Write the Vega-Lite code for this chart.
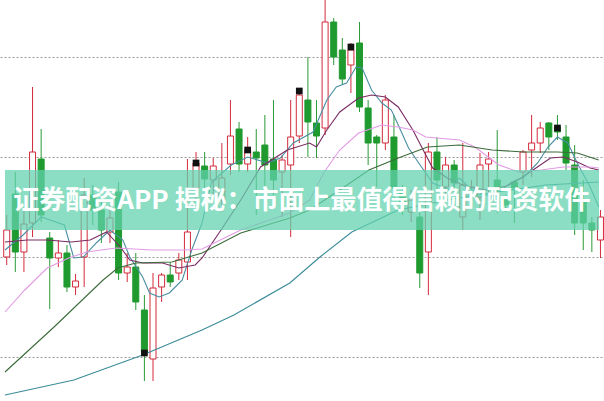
{
  "$schema": "https://vega.github.io/schema/vega-lite/v6.json",
  "width": 604,
  "height": 401,
  "padding": 0,
  "autosize": {"type": "fit", "contains": "padding"},
  "background": "white",
  "config": {"view": {"stroke": null}},
  "datasets": {
    "candles": [
      {"i":0,"o":11.00,"c":11.27,"h":11.42,"l":10.92},
      {"i":1,"o":11.63,"c":11.05,"h":11.85,"l":10.85},
      {"i":2,"o":11.05,"c":11.33,"h":11.47,"l":10.85},
      {"i":3,"o":11.34,"c":12.05,"h":12.70,"l":11.20},
      {"i":4,"o":11.98,"c":11.42,"h":12.28,"l":11.35},
      {"i":5,"o":11.19,"c":10.99,"h":11.25,"l":10.48},
      {"i":6,"o":10.99,"c":11.04,"h":11.17,"l":10.90},
      {"i":7,"o":11.04,"c":10.70,"h":11.12,"l":10.65},
      {"i":8,"o":10.70,"c":10.76,"h":10.83,"l":10.62},
      {"i":9,"o":11.00,"c":11.62,"h":11.79,"l":10.70},
      {"i":10,"o":11.62,"c":11.47,"h":11.72,"l":11.32},
      {"i":11,"o":11.47,"c":11.27,"h":11.57,"l":11.14},
      {"i":12,"o":11.25,"c":11.39,"h":11.52,"l":11.14},
      {"i":13,"o":11.65,"c":10.84,"h":11.75,"l":10.77},
      {"i":14,"o":10.84,"c":10.90,"h":11.04,"l":10.75},
      {"i":15,"o":10.90,"c":10.55,"h":11.04,"l":10.47},
      {"i":16,"o":10.47,"c":10.05,"h":10.62,"l":9.76},
      {"i":17,"o":9.98,"c":10.69,"h":10.84,"l":9.76},
      {"i":18,"o":10.70,"c":10.82,"h":10.84,"l":10.55},
      {"i":19,"o":10.82,"c":10.75,"h":10.95,"l":10.70},
      {"i":20,"o":10.84,"c":10.97,"h":11.04,"l":10.77},
      {"i":21,"o":10.95,"c":11.25,"h":11.98,"l":10.77},
      {"i":22,"o":11.69,"c":11.94,"h":12.05,"l":11.57},
      {"i":23,"o":11.91,"c":11.78,"h":12.05,"l":11.67},
      {"i":24,"o":11.77,"c":11.91,"h":11.99,"l":11.62},
      {"i":25,"o":11.57,"c":11.79,"h":12.14,"l":11.45},
      {"i":26,"o":11.93,"c":12.21,"h":12.57,"l":11.82},
      {"i":27,"o":12.28,"c":11.93,"h":12.35,"l":11.85},
      {"i":28,"o":11.93,"c":12.07,"h":12.20,"l":11.85},
      {"i":29,"o":12.05,"c":11.99,"h":12.28,"l":11.42},
      {"i":30,"o":12.12,"c":11.92,"h":12.42,"l":11.57},
      {"i":31,"o":11.98,"c":11.77,"h":12.57,"l":11.62},
      {"i":32,"o":11.85,"c":11.97,"h":12.02,"l":11.40},
      {"i":33,"o":11.92,"c":12.20,"h":12.57,"l":11.20},
      {"i":34,"o":12.21,"c":12.62,"h":12.69,"l":12.14},
      {"i":35,"o":12.57,"c":12.35,"h":13.00,"l":12.00},
      {"i":36,"o":12.34,"c":12.21,"h":12.57,"l":11.99},
      {"i":37,"o":12.29,"c":13.35,"h":13.60,"l":12.22},
      {"i":38,"o":13.35,"c":13.00,"h":13.39,"l":12.92},
      {"i":39,"o":13.07,"c":12.78,"h":13.19,"l":12.72},
      {"i":40,"o":12.92,"c":13.07,"h":13.14,"l":12.64},
      {"i":41,"o":13.14,"c":12.50,"h":13.35,"l":12.45},
      {"i":42,"o":12.49,"c":12.14,"h":12.57,"l":11.92},
      {"i":43,"o":12.20,"c":12.14,"h":12.22,"l":11.70},
      {"i":44,"o":12.14,"c":12.57,"h":12.62,"l":12.07},
      {"i":45,"o":12.20,"c":11.69,"h":12.42,"l":11.57},
      {"i":46,"o":11.65,"c":11.55,"h":11.72,"l":11.42},
      {"i":47,"o":11.45,"c":11.57,"h":11.67,"l":11.35},
      {"i":48,"o":11.40,"c":10.84,"h":11.52,"l":10.69},
      {"i":49,"o":11.05,"c":12.05,"h":12.14,"l":10.62},
      {"i":50,"o":12.05,"c":11.77,"h":12.20,"l":11.67},
      {"i":51,"o":11.70,"c":11.92,"h":12.00,"l":11.57},
      {"i":52,"o":11.92,"c":11.74,"h":11.97,"l":11.65},
      {"i":53,"o":11.40,"c":11.72,"h":12.14,"l":11.27},
      {"i":54,"o":11.62,"c":11.70,"h":11.77,"l":11.52},
      {"i":55,"o":11.60,"c":11.92,"h":12.04,"l":11.37},
      {"i":56,"o":11.93,"c":11.98,"h":12.05,"l":11.57},
      {"i":57,"o":11.77,"c":11.69,"h":12.27,"l":11.44},
      {"i":58,"o":11.57,"c":11.52,"h":11.62,"l":11.45},
      {"i":59,"o":11.75,"c":11.69,"h":11.77,"l":11.34},
      {"i":60,"o":11.85,"c":12.05,"h":12.07,"l":11.72},
      {"i":61,"o":12.07,"c":12.14,"h":12.42,"l":11.80},
      {"i":62,"o":12.14,"c":12.29,"h":12.35,"l":12.04},
      {"i":63,"o":12.34,"c":12.20,"h":12.35,"l":12.07},
      {"i":64,"o":12.30,"c":12.25,"h":12.42,"l":12.17},
      {"i":65,"o":12.20,"c":11.94,"h":12.32,"l":11.87},
      {"i":66,"o":11.92,"c":11.34,"h":12.12,"l":11.22},
      {"i":67,"o":11.57,"c":11.34,"h":11.77,"l":11.07},
      {"i":68,"o":11.34,"c":11.27,"h":11.40,"l":11.05},
      {"i":69,"o":11.17,"c":11.40,"h":11.47,"l":10.99}
    ],
    "ma": [
      {"s":"MA5","i":-0.2,"p":11.07},{"s":"MA5","i":1.9,"p":11.22},{"s":"MA5","i":4.0,"p":11.40},{"s":"MA5","i":6.7,"p":11.32},{"s":"MA5","i":7.8,"p":10.99},{"s":"MA5","i":8.9,"p":11.00},{"s":"MA5","i":10.4,"p":11.14},{"s":"MA5","i":12.0,"p":11.27},{"s":"MA5","i":13.5,"p":11.17},{"s":"MA5","i":14.3,"p":11.00},{"s":"MA5","i":15.8,"p":10.80},{"s":"MA5","i":16.6,"p":10.64},{"s":"MA5","i":17.7,"p":10.60},{"s":"MA5","i":18.9,"p":10.64},{"s":"MA5","i":20.4,"p":10.77},{"s":"MA5","i":21.5,"p":11.07},{"s":"MA5","i":22.7,"p":11.34},{"s":"MA5","i":23.8,"p":11.75},{"s":"MA5","i":26.1,"p":11.92},{"s":"MA5","i":28.0,"p":12.00},{"s":"MA5","i":30.3,"p":11.94},{"s":"MA5","i":31.8,"p":11.99},{"s":"MA5","i":33.3,"p":12.14},{"s":"MA5","i":35.6,"p":12.25},{"s":"MA5","i":37.2,"p":12.57},{"s":"MA5","i":38.3,"p":12.70},{"s":"MA5","i":39.5,"p":12.74},{"s":"MA5","i":40.6,"p":12.90},{"s":"MA5","i":41.3,"p":12.89},{"s":"MA5","i":42.4,"p":12.67},{"s":"MA5","i":43.6,"p":12.54},{"s":"MA5","i":44.7,"p":12.47},{"s":"MA5","i":45.5,"p":12.32},{"s":"MA5","i":46.7,"p":12.09},{"s":"MA5","i":47.8,"p":11.95},{"s":"MA5","i":49.5,"p":11.74},{"s":"MA5","i":51.5,"p":11.67},{"s":"MA5","i":52.6,"p":11.79},{"s":"MA5","i":54.1,"p":11.67},{"s":"MA5","i":56.4,"p":11.60},{"s":"MA5","i":58.7,"p":11.75},{"s":"MA5","i":60.1,"p":11.80},{"s":"MA5","i":61.7,"p":11.94},{"s":"MA5","i":62.9,"p":12.10},{"s":"MA5","i":64.0,"p":12.20},{"s":"MA5","i":65.2,"p":12.14},{"s":"MA5","i":66.3,"p":11.94},{"s":"MA5","i":67.8,"p":11.70},{"s":"MA5","i":68.8,"p":11.50},
      {"s":"MA10","i":-0.2,"p":11.15},{"s":"MA10","i":2.4,"p":11.17},{"s":"MA10","i":4.7,"p":11.17},{"s":"MA10","i":7.5,"p":11.15},{"s":"MA10","i":9.7,"p":11.17},{"s":"MA10","i":11.6,"p":11.25},{"s":"MA10","i":13.2,"p":11.10},{"s":"MA10","i":14.3,"p":10.97},{"s":"MA10","i":15.8,"p":10.94},{"s":"MA10","i":18.1,"p":10.94},{"s":"MA10","i":20.0,"p":10.89},{"s":"MA10","i":21.9,"p":10.92},{"s":"MA10","i":22.7,"p":10.99},{"s":"MA10","i":24.9,"p":11.27},{"s":"MA10","i":27.2,"p":11.57},{"s":"MA10","i":29.5,"p":11.90},{"s":"MA10","i":32.6,"p":12.07},{"s":"MA10","i":35.2,"p":12.14},{"s":"MA10","i":36.0,"p":12.10},{"s":"MA10","i":37.2,"p":12.27},{"s":"MA10","i":38.7,"p":12.45},{"s":"MA10","i":40.9,"p":12.59},{"s":"MA10","i":42.4,"p":12.62},{"s":"MA10","i":44.0,"p":12.60},{"s":"MA10","i":45.5,"p":12.50},{"s":"MA10","i":47.2,"p":12.27},{"s":"MA10","i":48.4,"p":12.07},{"s":"MA10","i":49.5,"p":11.89},{"s":"MA10","i":51.2,"p":11.79},{"s":"MA10","i":53.5,"p":11.70},{"s":"MA10","i":55.8,"p":11.67},{"s":"MA10","i":58.1,"p":11.71},{"s":"MA10","i":59.8,"p":11.79},{"s":"MA10","i":61.5,"p":11.89},{"s":"MA10","i":63.2,"p":11.99},{"s":"MA10","i":64.7,"p":12.00},{"s":"MA10","i":66.3,"p":11.95},{"s":"MA10","i":67.8,"p":11.89},{"s":"MA10","i":68.8,"p":11.87},
      {"s":"MA20","i":-0.2,"p":10.45},{"s":"MA20","i":2.1,"p":10.67},{"s":"MA20","i":4.7,"p":10.89},{"s":"MA20","i":7.2,"p":10.99},{"s":"MA20","i":9.3,"p":11.05},{"s":"MA20","i":12.7,"p":11.09},{"s":"MA20","i":16.9,"p":11.07},{"s":"MA20","i":20.7,"p":11.07},{"s":"MA20","i":22.7,"p":11.08},{"s":"MA20","i":27.2,"p":11.27},{"s":"MA20","i":32.9,"p":11.44},{"s":"MA20","i":35.2,"p":11.57},{"s":"MA20","i":36.9,"p":11.85},{"s":"MA20","i":38.7,"p":12.07},{"s":"MA20","i":40.9,"p":12.24},{"s":"MA20","i":43.6,"p":12.32},{"s":"MA20","i":45.5,"p":12.30},{"s":"MA20","i":47.2,"p":12.27},{"s":"MA20","i":48.7,"p":12.20},{"s":"MA20","i":52.6,"p":12.17},{"s":"MA20","i":54.4,"p":12.10},{"s":"MA20","i":57.2,"p":11.92},{"s":"MA20","i":59.5,"p":11.85},{"s":"MA20","i":62.1,"p":11.87},{"s":"MA20","i":64.7,"p":11.90},{"s":"MA20","i":67.8,"p":11.90},{"s":"MA20","i":68.8,"p":11.89},
      {"s":"MA30","i":-0.2,"p":9.85},{"s":"MA30","i":5.5,"p":10.30},{"s":"MA30","i":11.2,"p":10.77},{"s":"MA30","i":12.9,"p":10.89},{"s":"MA30","i":15.0,"p":10.94},{"s":"MA30","i":19.2,"p":10.95},{"s":"MA30","i":22.7,"p":11.04},{"s":"MA30","i":27.2,"p":11.24},{"s":"MA30","i":32.9,"p":11.39},{"s":"MA30","i":35.2,"p":11.47},{"s":"MA30","i":38.7,"p":11.67},{"s":"MA30","i":42.1,"p":11.87},{"s":"MA30","i":45.5,"p":11.99},{"s":"MA30","i":48.9,"p":12.10},{"s":"MA30","i":52.6,"p":12.12},{"s":"MA30","i":56.4,"p":12.07},{"s":"MA30","i":60.1,"p":12.05},{"s":"MA30","i":64.0,"p":12.05},{"s":"MA30","i":66.3,"p":12.04},{"s":"MA30","i":68.8,"p":11.97},
      {"s":"MA60","i":-0.2,"p":9.62},{"s":"MA60","i":7.8,"p":9.77},{"s":"MA60","i":15.8,"p":10.02},{"s":"MA60","i":22.7,"p":10.27},{"s":"MA60","i":26.4,"p":10.42},{"s":"MA60","i":32.9,"p":10.74},{"s":"MA60","i":36.4,"p":11.00},{"s":"MA60","i":40.1,"p":11.25},{"s":"MA60","i":45.5,"p":11.47},{"s":"MA60","i":51.2,"p":11.57},{"s":"MA60","i":56.9,"p":11.65},{"s":"MA60","i":62.7,"p":11.72},{"s":"MA60","i":68.8,"p":11.75}
    ],
    "signals": [
      {"i":16,"p":10.04},{"i":22,"p":11.94},{"i":28,"p":12.07},{"i":34,"p":12.66},{"i":40,"p":13.10},{"i":64,"p":12.29}
    ],
    "banner": [
      {"top":11.87,"bottom":11.27,"left":-0.2,"right":68.83,"mid":34.3,"cy":11.56,"title":"证券配资APP 揭秘：市面上最值得信赖的配资软件"}
    ]
  },
  "data": {"name": "candles"},
  "encoding": {
    "x": {"field": "i", "type": "quantitative", "scale": {"domain": [-0.2, 68.83], "nice": false, "zero": false}, "axis": null}
  },
  "layer": [
    {
      "mark": {"type": "rule", "strokeWidth": 1, "clip": true},
      "encoding": {
        "y": {"field": "l", "type": "quantitative", "scale": {"domain": [9.56, 13.57], "nice": false, "zero": false},
          "axis": {"title": null, "labels": false, "ticks": false, "domain": false, "grid": true, "values": [10, 11, 12, 13], "gridColor": "#9a9a9a", "gridDash": [2, 2], "gridWidth": 1}},
        "y2": {"field": "h"},
        "color": {"condition": {"test": "datum.c >= datum.o", "value": "#d42a3c"}, "value": "#2a9a36"}
      }
    },
    {
      "transform": [{"filter": "datum.c >= datum.o"}],
      "mark": {"type": "bar", "orient": "vertical", "size": 6, "fill": "white", "stroke": "#d42a3c", "strokeWidth": 1, "clip": true},
      "encoding": {
        "y": {"field": "o", "type": "quantitative"},
        "y2": {"field": "c"}
      }
    },
    {
      "transform": [{"filter": "datum.c < datum.o"}],
      "mark": {"type": "bar", "orient": "vertical", "size": 6, "fill": "#1f9a2e", "stroke": "#1f9a2e", "strokeWidth": 1, "clip": true},
      "encoding": {
        "y": {"field": "o", "type": "quantitative"},
        "y2": {"field": "c"}
      }
    },
    {
      "data": {"name": "ma"},
      "mark": {"type": "line", "strokeWidth": 1.1, "clip": true},
      "encoding": {
        "x": {"field": "i", "type": "quantitative"},
        "y": {"field": "p", "type": "quantitative"},
        "color": {"field": "s", "type": "nominal", "legend": null,
          "scale": {"domain": ["MA5", "MA10", "MA20", "MA30", "MA60"], "range": ["#4a8ea2", "#7a2c62", "#e39ae4", "#3b6b3b", "#3a8c98"]}}
      }
    },
    {
      "data": {"name": "signals"},
      "mark": {"type": "square", "filled": true, "color": "#111111", "size": 45, "opacity": 1},
      "encoding": {
        "x": {"field": "i", "type": "quantitative"},
        "y": {"field": "p", "type": "quantitative"}
      }
    },
    {
      "data": {"name": "banner"},
      "mark": {"type": "rect", "fill": "#62d2ae", "fillOpacity": 0.74},
      "encoding": {
        "x": {"field": "left", "type": "quantitative"},
        "x2": {"field": "right"},
        "y": {"field": "top", "type": "quantitative"},
        "y2": {"field": "bottom"}
      }
    },
    {
      "data": {"name": "banner"},
      "mark": {"type": "text", "font": "Noto Sans CJK SC", "fontWeight": "bold", "fontSize": 26, "color": "white", "align": "center", "baseline": "middle"},
      "encoding": {
        "x": {"field": "mid", "type": "quantitative"},
        "y": {"field": "cy", "type": "quantitative"},
        "text": {"field": "title"}
      }
    }
  ]
}
